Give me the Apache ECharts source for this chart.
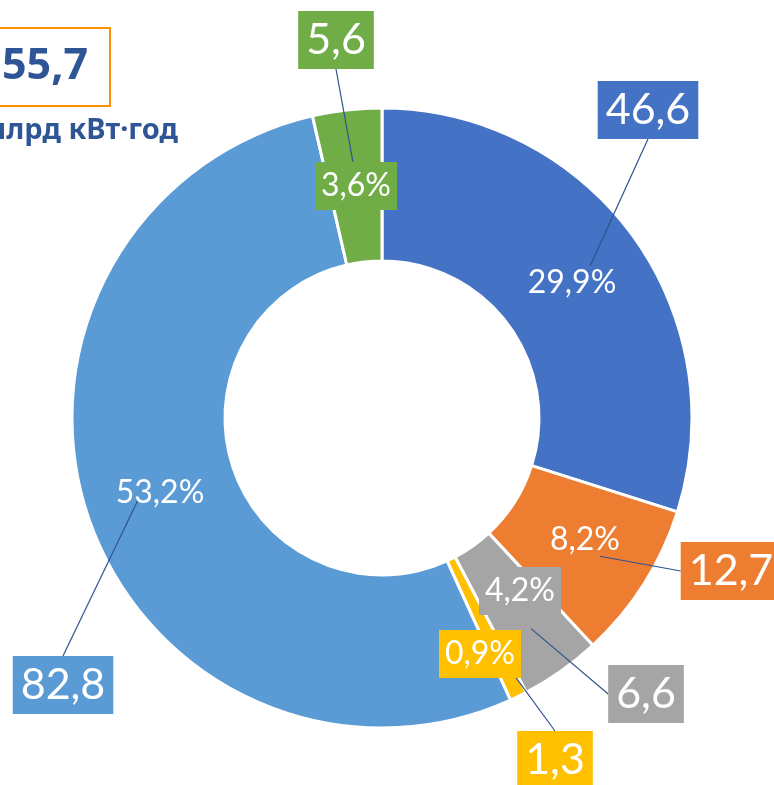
<!DOCTYPE html>
<html><head><meta charset="utf-8">
<script src="https://cdn.jsdelivr.net/npm/echarts@6/dist/echarts.min.js"></script>
<style>html,body{margin:0;padding:0;background:#fff}#c{width:774px;height:785px}</style>
</head><body><div id="c"></div>
<script>
// ---- data ----
const categories = ['Категорія 1','Категорія 2','Категорія 3','Категорія 4','Категорія 5','Категорія 6'];
const values = [46.6, 12.7, 6.6, 1.3, 82.8, 5.6];      // млрд кВт·год
const shares = [29.9, 8.2, 4.2, 0.9, 53.2, 3.6];       // %
const total = 155.7;
const unit = 'млрд кВт·год';

// ---- styling / layout ----
const colors = ['#4472C4','#ED7D31','#A5A5A5','#FFC000','#5B9BD5','#70AD47'];
const shareLabelPos = [[572,283],[585,540],[520,591],[480,654],[160,493],[356,186]];
const valueLabelPos = [[648,110],[731,571],[646,694],[555,760],[63,685],[336,40]];
const shareBoxed = [false,false,true,true,false,true];
const fmt = v => v.toFixed(1).replace('.', ',');
const FONT = 'Lato, "Noto Sans", sans-serif';
const BFONT = '"Noto Sans", "Open Sans", sans-serif';

const ringBase = {
  type: 'pie',
  center: [382, 418],
  radius: [157, 310],
  startAngle: 90,
  clockwise: true,
  silent: true,
  avoidLabelOverlap: false,
  emphasis: {disabled: true}
};

const chart = echarts.init(document.getElementById('c'), null, {renderer:'canvas'});
chart.setOption({
  animation: false,
  backgroundColor: '#fff',
  series: [
    // coloured ring
    Object.assign({}, ringBase, {
      z: 2,
      itemStyle: {borderColor: '#fff', borderWidth: 3},
      label: {show: false},
      labelLine: {show: false},
      data: shares.map((s, i) => ({value: s, name: categories[i], itemStyle: {color: colors[i]}}))
    }),
    // value call-outs with leader lines
    {
      type: 'pie',
      z: 3,
      center: [382, 418],
      radius: [0, 258],
      startAngle: 90,
      clockwise: true,
      silent: true,
      avoidLabelOverlap: false,
      emphasis: {disabled: true},
      label: {
        show: true, position: 'outside', color: '#fff',
        fontFamily: FONT, fontSize: 43, padding: [9, 8, 6, 8],
        formatter: p => fmt(values[p.dataIndex])
      },
      labelLine: {show: true, length: 10, length2: 0, smooth: false,
                  lineStyle: {color: '#2F528F', width: 1.2}},
      labelLayout: p => ({
        x: valueLabelPos[p.dataIndex][0], y: valueLabelPos[p.dataIndex][1],
        align: 'center', verticalAlign: 'middle'
      }),
      data: shares.map((s, i) => ({
        value: s, name: categories[i],
        itemStyle: {color: 'rgba(0,0,0,0)'},
        label: {backgroundColor: colors[i]}
      }))
    },
    // percentage labels (transparent ring on top)
    Object.assign({}, ringBase, {
      z: 4,
      itemStyle: {color: 'rgba(0,0,0,0)'},
      label: {
        show: true, position: 'inside', color: '#fff',
        fontFamily: FONT, fontSize: 32,
        formatter: p => fmt(shares[p.dataIndex]) + '%'
      },
      labelLine: {show: false},
      labelLayout: p => ({
        x: shareLabelPos[p.dataIndex][0], y: shareLabelPos[p.dataIndex][1],
        align: 'center', verticalAlign: 'middle'
      }),
      data: shares.map((s, i) => ({
        value: s, name: categories[i],
        itemStyle: {color: 'rgba(0,0,0,0)'},
        label: shareBoxed[i] ? {backgroundColor: colors[i], padding: [9, 6, 7, 6]} : {}
      }))
    })
  ],
  graphic: [
    {type: 'rect', shape: {x: -20, y: 28, width: 130, height: 78},
     style: {fill: 'none', stroke: '#FF9100', lineWidth: 2}},
    {type: 'text', x: 88, y: 67,
     style: {text: fmt(total), font: 'bold 43px ' + BFONT, fill: '#2E5596', align: 'right', verticalAlign: 'middle'}},
    {type: 'text', x: 178, y: 131,
     style: {text: unit, font: 'bold 29px ' + BFONT, fill: '#2E5596', align: 'right', verticalAlign: 'middle'}}
  ]
});
</script>
</body></html>
